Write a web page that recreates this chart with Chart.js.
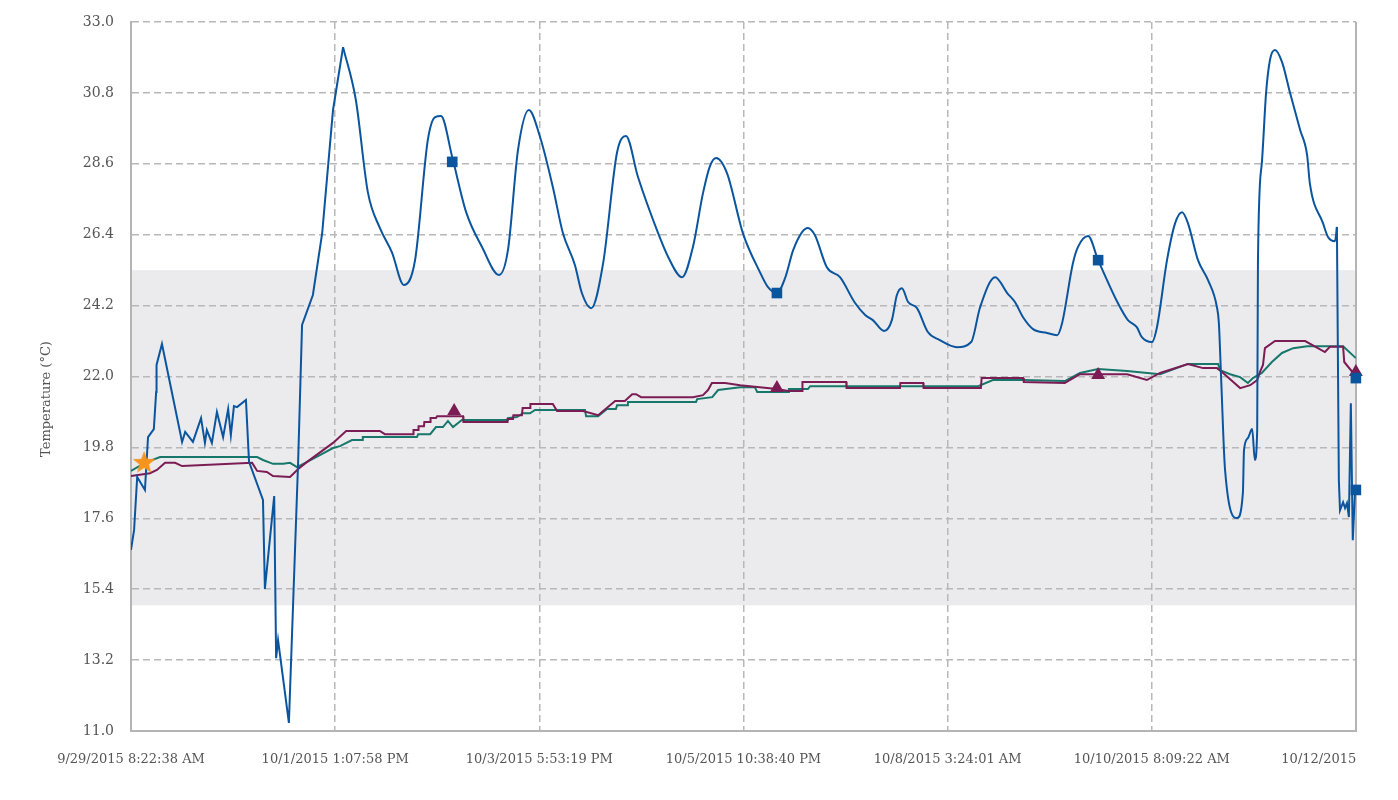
<!DOCTYPE html>
<html>
<head>
<meta charset="utf-8">
<title>Temperature</title>
<script src="https://cdn.jsdelivr.net/npm/chart.js@4.4.1/dist/chart.umd.min.js"></script>
<style>
  html, body { margin: 0; padding: 0; background: #fff; }
  #wrap { width: 1398px; height: 800px; }
</style>
</head>
<body>
<div id="wrap"><canvas id="tempChart" width="1398" height="800"></canvas></div>
<script>
// x values are hours since 9/29/2015 8:22:38 AM
const xTickHours = [0, 52.756, 105.511, 158.267, 211.022, 263.778, 316.533];
const xTickLabels = ['9/29/2015 8:22:38 AM', '10/1/2015 1:07:58 PM', '10/3/2015 5:53:19 PM',
  '10/5/2015 10:38:40 PM', '10/8/2015 3:24:01 AM', '10/10/2015 8:09:22 AM', '10/12/2015'];
const yTicks = [11.0, 13.2, 15.4, 17.6, 19.8, 22.0, 24.2, 26.4, 28.6, 30.8, 33.0];
const comfortBand = [14.9, 25.3];

const blueHours = [
  0, 0.8, 1.6, 3.6, 4.4, 5.9, 6.5, 6.6, 8.0, 13.2,
  14.0, 16.0, 18.1, 19.1, 19.6, 20.9, 22.2, 23.8, 25.1, 25.8,
  26.6, 27.4, 29.7, 30.5, 34.1, 34.6, 37.0, 37.5, 38.0, 40.8,
  43.2, 44.2, 47.0, 49.4, 52.2, 54.8, 58.1, 61.2, 64.3, 67.4,
  70.5, 73.4, 76.7, 78.6, 80.1, 83.0, 86.6, 90.7, 95.1, 97.4,
  100.0, 102.8, 105.7, 109.0, 111.6, 114.7, 116.5, 118.9, 122.0, 125.6,
  127.9, 131.0, 136.2, 138.8, 142.4, 145.2, 147.8, 149.6, 151.2, 154.0,
  158.1, 162.5, 164.6, 166.9, 169.0, 171.1, 173.4, 174.9, 176.7, 179.8,
  183.2, 187.1, 189.7, 191.7, 194.6, 196.6, 197.9, 199.2, 200.8, 203.1,
  205.9, 209.0, 213.4, 217.1, 219.4, 223.3, 226.4, 228.4, 230.5, 233.1,
  236.7, 239.3, 240.6, 243.4, 244.7, 247.3, 249.9, 252.2, 255.0, 257.6,
  259.9, 261.2, 263.8, 265.1, 267.7, 269.8, 271.6, 273.1, 275.7, 278.3,
  280.6, 281.1, 281.7, 282.7, 285.8, 287.3, 287.6, 288.6, 289.7, 290.4,
  291.0, 291.2, 292.2, 293.3, 294.3, 295.6, 297.4, 299.5, 302.1, 303.9,
  304.6, 308.0, 309.3, 311.1, 311.6, 312.1, 312.4, 313.2, 313.7, 314.2,
  314.7, 315.2, 315.7, 316.3
];
const blueTemps = [
  16.62, 17.24, 18.88, 18.48, 20.12, 20.37, 21.52, 22.36, 23.01, 19.97,
  20.28, 19.97, 20.71, 19.94, 20.34, 19.94, 20.90, 20.12, 20.99, 20.18,
  21.08, 21.05, 21.27, 19.35, 18.17, 15.41, 18.29, 13.26, 13.82, 11.25,
  19.41, 23.60, 24.53, 26.45, 30.27, 32.22, 30.58, 27.72, 26.61, 25.86,
  24.84, 25.61, 29.34, 30.05, 30.08, 28.81, 27.10, 26.02, 25.15, 25.92,
  29.03, 30.27, 29.43, 27.88, 26.45, 25.46, 24.59, 24.12, 25.52, 28.96,
  29.46, 28.19, 26.45, 25.71, 25.08, 26.02, 27.69, 28.53, 28.78, 28.31,
  26.45, 25.24, 24.77, 24.59, 25.05, 25.92, 26.48, 26.61, 26.39, 25.39,
  25.08, 24.28, 23.91, 23.75, 23.41, 23.75, 24.53, 24.74, 24.31, 24.12,
  23.38, 23.13, 22.91, 23.07, 24.15, 25.08, 24.59, 24.31, 23.84, 23.47,
  23.35, 23.28, 23.66, 25.52, 26.02, 26.36, 25.61, 24.99, 24.28, 23.75,
  23.53, 23.22, 23.07, 23.53, 25.61, 26.76, 27.10, 26.76, 25.61, 24.99,
  24.15, 23.66, 21.89, 19.10, 17.61, 18.38, 19.72, 20.09, 20.37, 19.41,
  20.34, 25.61, 28.62, 30.80, 31.82, 32.13, 31.76, 30.80, 29.65, 28.87,
  28.00, 26.76, 26.33, 26.20, 26.64, 18.79, 17.85, 18.10, 17.92, 18.07,
  17.64, 21.17, 16.92, 18.48
];
// the logger trace is jagged at both ends and smooth in between
const blueSmoothFrom = 54.8;
const blueSmoothTo = 311.6;

const tealHours = [
  0, 3.6, 7.5, 32.6, 34.1, 36.7, 39.3, 41.1, 42.9, 45.5,
  48.8, 52.2, 54.0, 57.1, 59.7, 59.9, 73.9, 74.2, 77.3, 78.8,
  80.6, 81.9, 83.2, 85.5, 97.2, 97.4, 99.7, 101.3, 103.1, 104.4,
  117.3, 117.6, 120.7, 123.0, 125.3, 125.6, 128.2, 128.4, 146.0, 146.3,
  150.2, 151.7, 157.4, 161.2, 161.8, 169.8, 170.0, 174.9, 175.5, 218.9,
  222.7, 230.5, 241.3, 245.2, 249.9, 257.4, 265.9, 273.1, 280.9, 281.4,
  284.0, 286.6, 288.6, 289.9, 292.2, 294.8, 297.4, 300.3, 303.9, 313.2,
  316.5
];
const tealTemps = [
  19.07, 19.32, 19.50, 19.50, 19.41, 19.29, 19.29, 19.32, 19.19, 19.35,
  19.56, 19.78, 19.84, 20.03, 20.03, 20.12, 20.12, 20.21, 20.21, 20.43,
  20.43, 20.62, 20.43, 20.65, 20.65, 20.71, 20.74, 20.86, 20.86, 20.96,
  20.96, 20.77, 20.77, 20.99, 20.99, 21.11, 21.11, 21.21, 21.21, 21.30,
  21.36, 21.58, 21.67, 21.67, 21.52, 21.52, 21.61, 21.61, 21.70, 21.70,
  21.89, 21.89, 21.86, 22.11, 22.23, 22.17, 22.07, 22.39, 22.39, 22.20,
  22.07, 21.98, 21.80, 21.95, 22.11, 22.45, 22.73, 22.88, 22.94, 22.94,
  22.57
];

const maroonHours = [
  0, 4.9, 6.7, 8.8, 11.4, 13.2, 31.3, 32.6, 35.1, 36.7,
  41.1, 43.2, 45.5, 52.2, 55.6, 64.3, 65.6, 72.9, 73.0, 74.2,
  74.3, 75.7, 75.8, 77.3, 77.4, 78.8, 79.1, 85.8, 85.9, 97.2,
  97.3, 98.7, 98.8, 101.0, 101.2, 103.1, 103.2, 109.0, 110.1, 116.8,
  120.7, 125.1, 127.6, 129.5, 130.5, 131.8, 145.2, 147.8, 149.1, 150.1,
  153.5, 157.4, 166.9, 169.8, 173.4, 173.5, 184.8, 184.9, 198.7, 198.8,
  204.7, 204.8, 219.6, 219.8, 230.5, 230.7, 241.3, 245.2, 257.4, 262.5,
  265.9, 273.1, 277.0, 280.6, 281.9, 286.6, 289.2, 291.0, 291.7, 292.5,
  293.0, 295.6, 303.4, 308.5, 309.8, 313.2, 313.5, 315.8, 316.5
];
const maroonTemps = [
  18.91, 19.00, 19.10, 19.32, 19.32, 19.22, 19.32, 19.07, 19.04, 18.91,
  18.88, 19.13, 19.35, 19.94, 20.31, 20.31, 20.21, 20.21, 20.34, 20.34,
  20.46, 20.46, 20.59, 20.59, 20.71, 20.71, 20.77, 20.77, 20.59, 20.59,
  20.68, 20.68, 20.80, 20.80, 21.02, 21.02, 21.15, 21.15, 20.93, 20.93,
  20.80, 21.24, 21.24, 21.45, 21.45, 21.36, 21.36, 21.42, 21.58, 21.80,
  21.80, 21.73, 21.61, 21.55, 21.55, 21.83, 21.83, 21.64, 21.64, 21.80,
  21.80, 21.64, 21.64, 21.95, 21.95, 21.83, 21.80, 22.07, 22.07, 21.89,
  22.11, 22.39, 22.26, 22.26, 22.14, 21.64, 21.73, 21.89, 22.14, 22.36,
  22.88, 23.10, 23.10, 22.76, 22.92, 22.92, 22.45, 22.11, 22.05
];

const squareHours = [83.0, 166.9, 249.9, 316.5, 316.5];
const squareTemps = [28.66, 24.59, 25.61, 21.95, 18.48];
const triangleHours = [83.5, 166.9, 249.9, 316.5];
const triangleTemps = [20.93, 21.64, 22.05, 22.14];
const starHours = [3.4];
const starTemps = [19.32];

const BLUE = '#0b559e', TEAL = '#17776a', MAROON = '#7c1c55';

const toPoints = (xs, ys) => xs.map((x, i) => ({ x: x, y: ys[i] }));
const bluePoints = toPoints(blueHours, blueTemps);
const blueEarly = bluePoints.filter(p => p.x <= blueSmoothFrom);
const blueMid = bluePoints.filter(p => p.x >= blueSmoothFrom && p.x <= blueSmoothTo);
const blueLate = bluePoints.filter(p => p.x >= blueSmoothTo);

// filled five point star for the start marker
function makeStar(size, color) {
  const c = document.createElement('canvas');
  c.width = size; c.height = size;
  const g = c.getContext('2d');
  const cx = size / 2, cy = size / 2, outer = size / 2, inner = size * 0.21;
  g.beginPath();
  for (let i = 0; i < 10; i++) {
    const r = i % 2 === 0 ? outer : inner;
    const a = -Math.PI / 2 + i * Math.PI / 5;
    g.lineTo(cx + r * Math.cos(a), cy + r * Math.sin(a));
  }
  g.closePath();
  g.fillStyle = color;
  g.fill();
  return c;
}

const bandAndFrame = {
  id: 'bandAndFrame',
  beforeDraw(chart) {
    const { ctx, chartArea: a, scales: { y } } = chart;
    const top = y.getPixelForValue(comfortBand[1]);
    const bottom = y.getPixelForValue(comfortBand[0]);
    ctx.save();
    ctx.fillStyle = '#ebebee';
    ctx.fillRect(a.left, top, a.right - a.left, bottom - top);
    ctx.restore();
  },
  beforeDatasetsDraw(chart) {
    const { ctx, chartArea: a } = chart;
    ctx.save();
    ctx.strokeStyle = '#b4b4b4';
    ctx.lineWidth = 2;
    ctx.beginPath();
    ctx.moveTo(a.right, a.top);
    ctx.lineTo(a.right, a.bottom + 1);
    ctx.stroke();
    ctx.restore();
  },
  afterDraw(chart) {
    const { ctx } = chart;
    ctx.save();
    ctx.translate(47, 399);
    ctx.rotate(-Math.PI / 2);
    ctx.font = '13px "DejaVu Serif"';
    ctx.fillStyle = '#555';
    ctx.textAlign = 'center';
    ctx.textBaseline = 'middle';
    ctx.fillText('Temperature (°C)', 0, 0);
    ctx.restore();
  }
};

const blueLine = { borderColor: BLUE, borderWidth: 2, pointRadius: 0 };

const ctx = document.getElementById('tempChart').getContext('2d');
const tempChart = new Chart(ctx, {
  type: 'line',
  data: {
    datasets: [
      { data: toPoints(starHours, starTemps), showLine: false, pointStyle: makeStar(24, '#f7941e'),
        pointRadius: 12, clip: false, order: 0 },
      { data: toPoints(squareHours, squareTemps), showLine: false, pointStyle: 'rect',
        pointRadius: 7.5, backgroundColor: BLUE, borderColor: BLUE, borderWidth: 0, clip: false, order: 1 },
      { data: toPoints(triangleHours, triangleTemps), showLine: false, pointStyle: 'triangle',
        pointRadius: 8, backgroundColor: MAROON, borderColor: MAROON, borderWidth: 0, clip: false, order: 2 },
      { ...blueLine, data: blueEarly, tension: 0, order: 3 },
      { ...blueLine, data: blueMid, cubicInterpolationMode: 'monotone', order: 3 },
      { ...blueLine, data: blueLate, tension: 0, order: 3 },
      { data: toPoints(maroonHours, maroonTemps), borderColor: MAROON, borderWidth: 2,
        pointRadius: 0, tension: 0, order: 4 },
      { data: toPoints(tealHours, tealTemps), borderColor: TEAL, borderWidth: 2,
        pointRadius: 0, tension: 0, order: 5 }
    ]
  },
  options: {
    responsive: false,
    animation: false,
    devicePixelRatio: 1,
    layout: { padding: { left: 0, right: 42, top: 22, bottom: 0 } },
    plugins: { legend: { display: false }, tooltip: { enabled: false } },
    scales: {
      x: {
        type: 'linear',
        min: 0,
        max: 316.533,
        afterBuildTicks: s => { s.ticks = xTickHours.map(v => ({ value: v })); },
        afterFit: s => { s.height = 69; s.paddingLeft = 0; s.paddingRight = 0; },
        ticks: {
          autoSkip: false,
          maxRotation: 0,
          padding: 21,
          color: '#555',
          font: { family: 'DejaVu Serif', size: 13 },
          callback: (v, i) => i === xTickLabels.length - 1 ? xTickLabels[i] + ' '.repeat(18) : xTickLabels[i]
        },
        grid: { color: '#b8b8b8', lineWidth: 1.5, drawTicks: false },
        border: { color: '#b4b4b4', width: 2, dash: [7, 4] }
      },
      y: {
        min: 11,
        max: 33,
        afterBuildTicks: s => { s.ticks = yTicks.map(v => ({ value: v })); },
        afterFit: s => { s.width = 131; s.paddingTop = 0; s.paddingBottom = 0; },
        ticks: {
          padding: 17,
          color: '#555',
          font: { family: 'DejaVu Serif', size: 14 },
          callback: v => v.toFixed(1)
        },
        grid: { color: '#b8b8b8', lineWidth: 1.5, drawTicks: false },
        border: { color: '#b4b4b4', width: 2, dash: [7, 4] }
      }
    }
  },
  plugins: [bandAndFrame]
});
</script>
</body>
</html>
